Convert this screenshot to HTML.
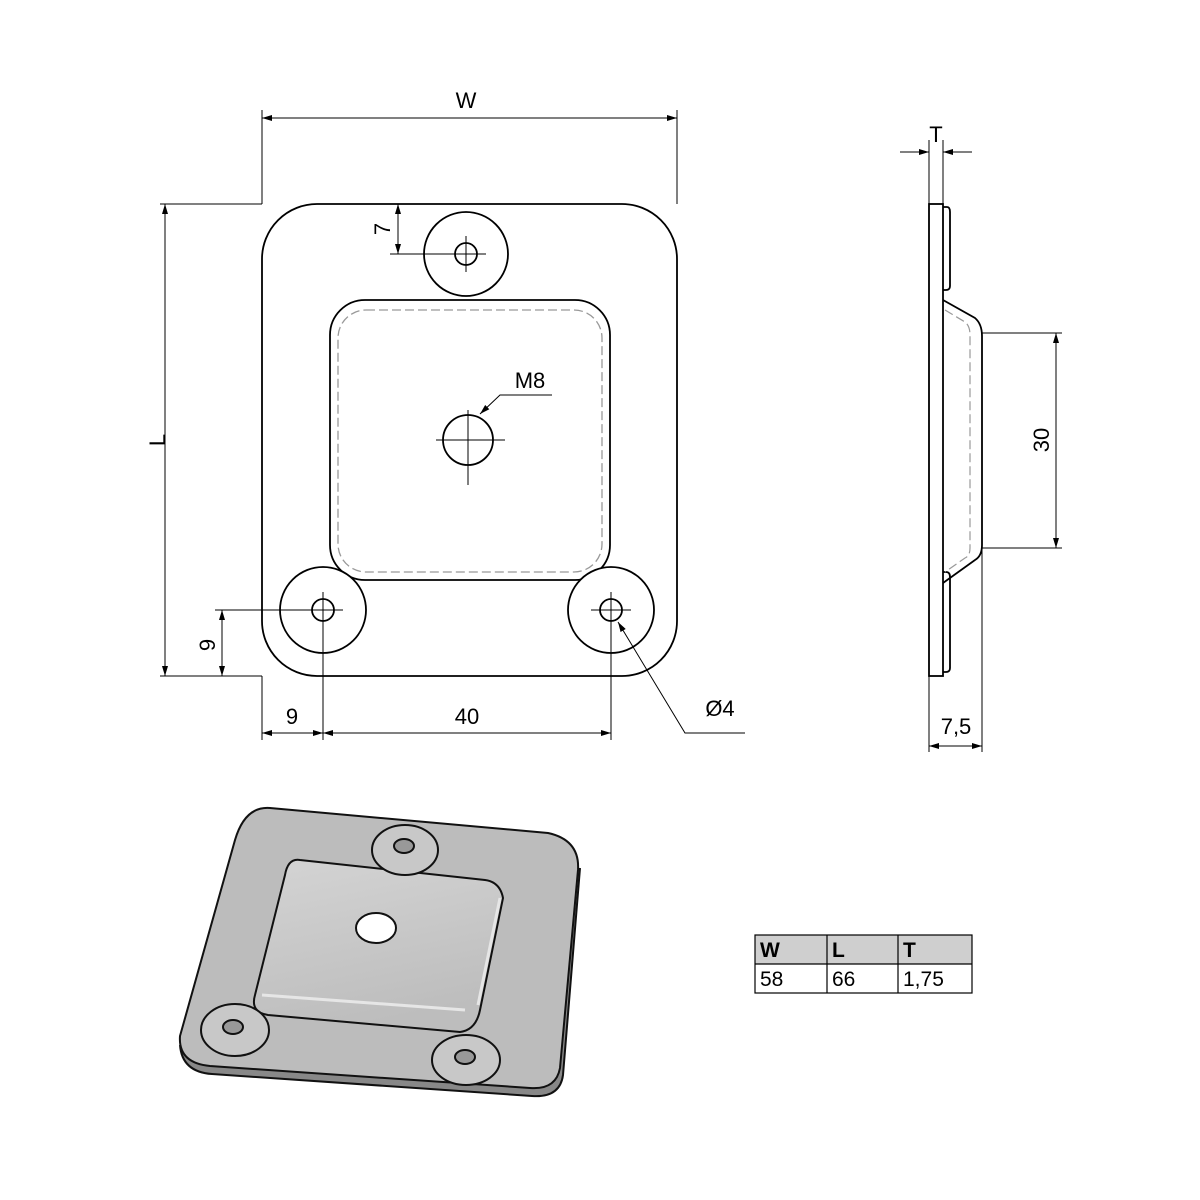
<!DOCTYPE html>
<html><head><meta charset="utf-8"><style>html,body{margin:0;padding:0;background:#fff}svg{display:block}</style></head>
<body>
<svg width="1200" height="1200" viewBox="0 0 1200 1200" xmlns="http://www.w3.org/2000/svg" font-family="Liberation Sans, sans-serif">
<defs>
<marker id="a" viewBox="0 0 10 6" refX="10" refY="3" markerWidth="10" markerHeight="6" orient="auto-start-reverse" markerUnits="userSpaceOnUse"><path d="M0,0L10,3L0,6z" fill="#000"/></marker>
<linearGradient id="dome" x1="0" y1="0" x2="0.3" y2="1"><stop offset="0" stop-color="#d4d4d4"/><stop offset="1" stop-color="#bdbdbd"/></linearGradient>
</defs>
<g fill="none" stroke="#000" stroke-width="1.8">
<rect x="262" y="204" width="415" height="472" rx="55"/>
<rect x="330" y="300" width="280" height="280" rx="35"/>
<rect x="338" y="310" width="264" height="262" rx="28" stroke="#999" stroke-dasharray="9,4" stroke-width="1.3"/>
<circle cx="466" cy="254" r="42" fill="#fff"/>
<circle cx="466" cy="254" r="11"/>
<circle cx="323" cy="610" r="43" fill="#fff"/>
<circle cx="323" cy="610" r="11"/>
<circle cx="611" cy="610" r="43" fill="#fff"/>
<circle cx="611" cy="610" r="11"/>
<circle cx="468" cy="440" r="25"/>
</g>
<g stroke="#000" stroke-width="1" fill="none">
<path d="M436 440H505M468 410V485M446 254H486M466 236V272M303 610H343M323 592V628M591 610H631M611 592V628"/>
<path d="M262 110V204M677 110V204M160 204H262M160 676H262M390 254H466M215 610H323M262 676V740M323 628V740M611 628V740"/>
<path d="M262 118H677" marker-start="url(#a)" marker-end="url(#a)"/>
<path d="M165 204V676" marker-start="url(#a)" marker-end="url(#a)"/>
<path d="M398 204V254" marker-start="url(#a)" marker-end="url(#a)"/>
<path d="M222 610V676" marker-start="url(#a)" marker-end="url(#a)"/>
<path d="M262 733H323" marker-start="url(#a)" marker-end="url(#a)"/>
<path d="M323 733H611" marker-start="url(#a)" marker-end="url(#a)"/>
<path d="M745 733H685L618 622" marker-end="url(#a)"/>
<path d="M552 395H500L480 414" marker-end="url(#a)"/>
<path d="M929 140V204M943 140V204M982 333H1062M982 548H1062M929 676V752M982 548V752"/>
<path d="M900 152H929" marker-end="url(#a)"/>
<path d="M972 152H943" marker-end="url(#a)"/>
<path d="M1056 333V548" marker-start="url(#a)" marker-end="url(#a)"/>
<path d="M929 746H982" marker-start="url(#a)" marker-end="url(#a)"/>
</g>
<g fill="none" stroke="#000" stroke-width="1.8">
<rect x="929" y="204" width="14" height="472"/>
<path d="M943 207H947Q950 207 950 212V286Q950 290 946 290H943M943 572H946Q950 572 950 577V668Q950 672 946 672H943"/>
<path d="M943 300L975 318Q982 324 982 336V545Q982 556 975 560L943 583"/>
</g>
<path d="M945 310L965 322Q970 326 970 335V548Q970 556 965 558L945 572" fill="none" stroke="#999" stroke-width="1.2" stroke-dasharray="9,4"/>
<g font-size="22" fill="#000">
<text x="466" y="108" text-anchor="middle">W</text>
<text x="157" y="440" text-anchor="middle" transform="rotate(-90 157 440)" dy="8">L</text>
<text x="382" y="229" text-anchor="middle" transform="rotate(-90 382 229)" dy="8">7</text>
<text x="207" y="645" text-anchor="middle" transform="rotate(-90 207 645)" dy="8">9</text>
<text x="292" y="724" text-anchor="middle">9</text>
<text x="467" y="724" text-anchor="middle">40</text>
<text x="720" y="716" text-anchor="middle">Ø4</text>
<text x="530" y="388" text-anchor="middle">M8</text>
<text x="936" y="142" text-anchor="middle">T</text>
<text x="1041" y="440" text-anchor="middle" transform="rotate(-90 1041 440)" dy="8">30</text>
<text x="956" y="734" text-anchor="middle">7,5</text>
</g>
<g stroke="#111" stroke-width="2">
<path d="M180 1045Q182 1072 212 1074L532 1096Q560 1098 563 1075L580 868" fill="#888"/>
<path d="M270 808L548 833Q580 840 578 870L560 1068Q556 1090 530 1088L210 1066Q178 1063 180 1036L235 840Q245 806 270 808Z" fill="#bcbcbc"/>
<path d="M300 860L485 880Q500 882 503 898L480 1010Q476 1030 460 1032L268 1015Q250 1012 255 995L285 875Q288 858 300 860Z" fill="url(#dome)"/>
<ellipse cx="405" cy="850" rx="33" ry="25" fill="#c8c8c8"/>
<ellipse cx="235" cy="1030" rx="34" ry="26" fill="#c8c8c8"/>
<ellipse cx="466" cy="1060" rx="34" ry="25" fill="#c8c8c8"/>
<ellipse cx="404" cy="846" rx="10" ry="7" fill="#999"/>
<ellipse cx="233" cy="1027" rx="10" ry="7" fill="#999"/>
<ellipse cx="465" cy="1057" rx="10" ry="7" fill="#999"/>
<ellipse cx="376" cy="928" rx="20" ry="15" fill="#fff"/>
</g>
<path d="M262 995L465 1010M478 1005L500 898" stroke="#e6e6e6" stroke-width="3" fill="none"/>
<rect x="755" y="935" width="217" height="29" fill="#cfcfcf"/>
<g stroke="#000" stroke-width="1.2" fill="none">
<rect x="755" y="935" width="217" height="58"/>
<path d="M755 964H972M827 935V993M898 935V993"/>
</g>
<g font-size="21" fill="#000">
<text x="760" y="957" font-weight="bold">W</text>
<text x="832" y="957" font-weight="bold">L</text>
<text x="903" y="957" font-weight="bold">T</text>
<text x="760" y="986">58</text>
<text x="832" y="986">66</text>
<text x="903" y="986">1,75</text>
</g>
</svg>
</body></html>
